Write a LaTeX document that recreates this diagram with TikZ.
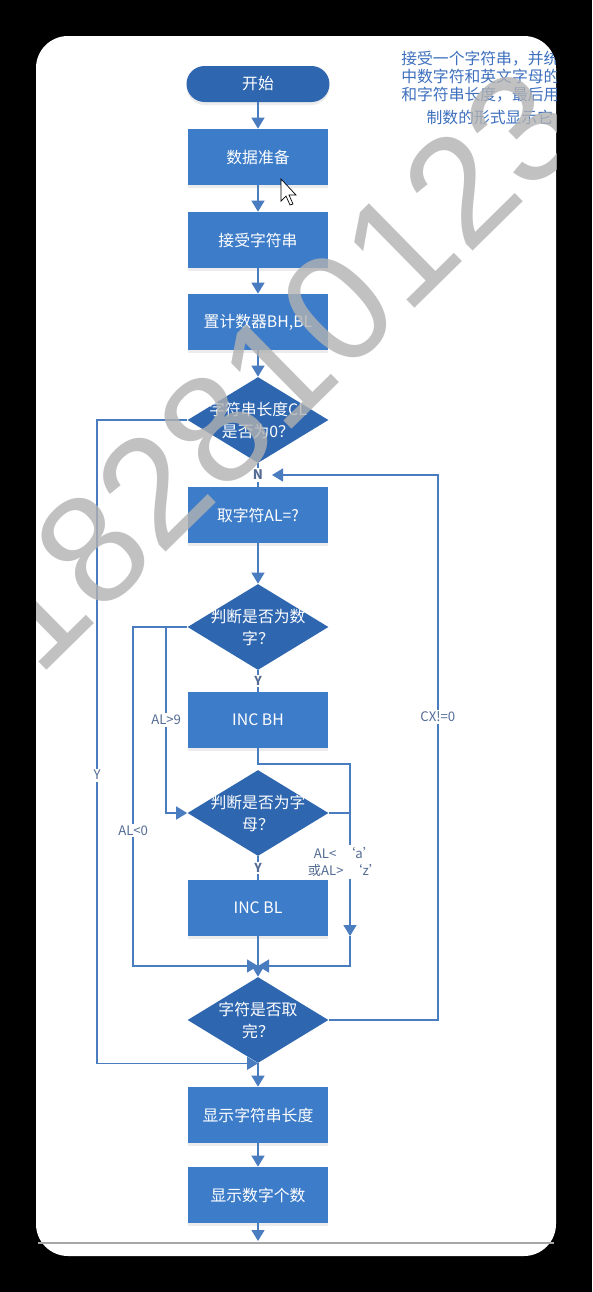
\documentclass[tikz,border=0pt]{standalone}
\usepackage{fontspec}
\setmainfont{Noto Sans CJK SC}
\newfontfamily\markfont{Liberation Sans}
\usetikzlibrary{shapes.geometric,arrows.meta,shadows}
\definecolor{boxblue}{RGB}{61,124,201}
\definecolor{decblue}{RGB}{46,102,176}
\definecolor{lineblue}{RGB}{74,124,192}
\definecolor{textblue}{RGB}{62,112,190}
\definecolor{labelgray}{RGB}{84,108,148}
\begin{document}
\begin{tikzpicture}[x=0.02cm,y=-0.02cm]
            \tikzstyle{every node}+=[inner sep=0pt]
            \tikzstyle{proc}=[rectangle, fill=boxblue, minimum width=2.82cm, minimum height=1.12cm, text=white, font=\fontsize{9}{11}\selectfont, drop shadow={opacity=0.15, shadow xshift=0pt, shadow yshift=-0.06cm}]
            \tikzstyle{startbox}=[proc, fill=decblue, rounded corners=0.36cm, minimum width=2.86cm, minimum height=0.72cm]
            \tikzstyle{decide}=[diamond, fill=decblue, minimum width=2.82cm, minimum height=1.72cm]
            \tikzstyle{dtext}=[text=white, align=center, font=\fontsize{9}{12.5}\selectfont]
            \tikzstyle{flow}=[draw=lineblue, line width=0.8pt, -{Triangle[width=0.26cm,length=0.22cm]}]
            \tikzstyle{plain}=[draw=lineblue, line width=0.8pt]
            \tikzstyle{cond}=[fill=white, text=labelgray, font=\fontsize{7.5}{10}\selectfont, inner sep=1pt]
            \useasboundingbox (0,0) rectangle (592,1292);
            % card
            \fill [black] (0,0) rectangle (592,1292);
            \fill [white, rounded corners=0.64cm] (36,36) rectangle (556,1256);
            \draw [black!35, line width=0.6pt] (38,1243) -- (554,1243);
            % boxes
            \node [startbox] (begin) at (258,84) {开始};
            \node [proc] (prep) at (258,157) {数据准备};
            \node [proc] (read) at (258,240) {接受字符串};
            \node [proc] (init) at (258,322) {置计数器BH,BL};
            \node [decide, label={[dtext]center:{字符串长度CL\\是否为0？}}] (lenzero) at (258,420) {};
            \node [proc] (fetch) at (258,515) {取字符AL=?};
            \node [decide, label={[dtext]center:{判断是否为数\\字？}}] (isdigit) at (258,627) {};
            \node [proc] (incbh) at (258,720) {INC BH};
            \node [decide, label={[dtext]center:{判断是否为字\\母？}}] (isletter) at (258,813) {};
            \node [proc] (incbl) at (258,908) {INC BL};
            \node [decide, label={[dtext]center:{字符是否取\\完？}}] (done) at (258,1020) {};
            \node [proc] (showlen) at (258,1115) {显示字符串长度};
            \node [proc] (shownum) at (258,1195) {显示数字个数};
            \coordinate (merge) at (258,966);
            \coordinate (bhturn) at (350,764);
            \coordinate (rdown) at (350,936);
            \coordinate (nin) at (272,475);
            \coordinate (pageend) at (258,1241);
            % connectors
            \draw [flow] (begin) -- (prep);
            \draw [flow] (prep) -- (read);
            \draw [flow] (read) -- (init);
            \draw [flow] (init) -- (lenzero);
            \draw [plain] (lenzero) -- node [cond, font=\fontsize{7.5}{10}\selectfont\bfseries] {N} (fetch);
            \draw [flow] (fetch) -- (isdigit);
            \draw [plain] (isdigit) -- node [cond, font=\fontsize{7}{10}\selectfont\bfseries] {Y} (incbh);
            \draw [flow] (isdigit.west) -- ++(-21,0) |- node [cond, pos=0.25] {AL>9} (isletter.west);
            \draw [flow] (isdigit.west) -- ++(-54,0) |- node [cond, pos=0.3] {AL<0} (merge);
            \draw [plain] (isletter) -- node [cond, font=\fontsize{7}{10}\selectfont\bfseries] {Y} (incbl);
            \draw [flow] (incbh.south) |- (bhturn) -- (rdown);
            \draw [plain] (isletter.east) -- (isletter.east -| bhturn);
            \draw [flow] (rdown) |- (merge);
            \node [cond, align=center] (rangelbl) at (345,862) {AL<\ \ ‘a’\\或AL>\ \ ‘z’};
            \draw [plain] (incbl) -- (merge);
            \draw [flow] (merge) -- (done);
            \draw [flow] (done.east) -- ++(109,0) |- node [cond, pos=0.278] {CX!=0} (nin);
            \draw [flow] (lenzero.west) -- ++(-90,0) |- node [cond, pos=0.276] {Y} (done.south);
            \draw [flow] (done) -- (showlen);
            \draw [flow] (showlen) -- (shownum);
            \draw [flow] (shownum) -- (pageend);
            % cursor
            \draw [fill=white, line width=0.4pt] (281,179) -- (281,201) -- (286,196) -- (290,205) -- (293,204) -- (289,195) -- (296,195) -- cycle;
            \begin{scope}
            \clip [rounded corners=0.64cm] (36,36) rectangle (556,1256);
            \node [anchor=north west, text=textblue, align=left, font=\fontsize{9}{10.2}\selectfont] (intro) at (401,51) {接受一个字符串，并统\\中数字符和英文字母的\\和字符串长度，最后用\\[3pt]\hspace{1.6em}制数的形式显示它};
            % watermark
            \node [rotate=44.5, text=black!30, opacity=0.8, font=\markfont\fontsize{88}{88}\selectfont] (mark) at (277,369) {182810123};
            \end{scope}
\end{tikzpicture}
\end{document}
